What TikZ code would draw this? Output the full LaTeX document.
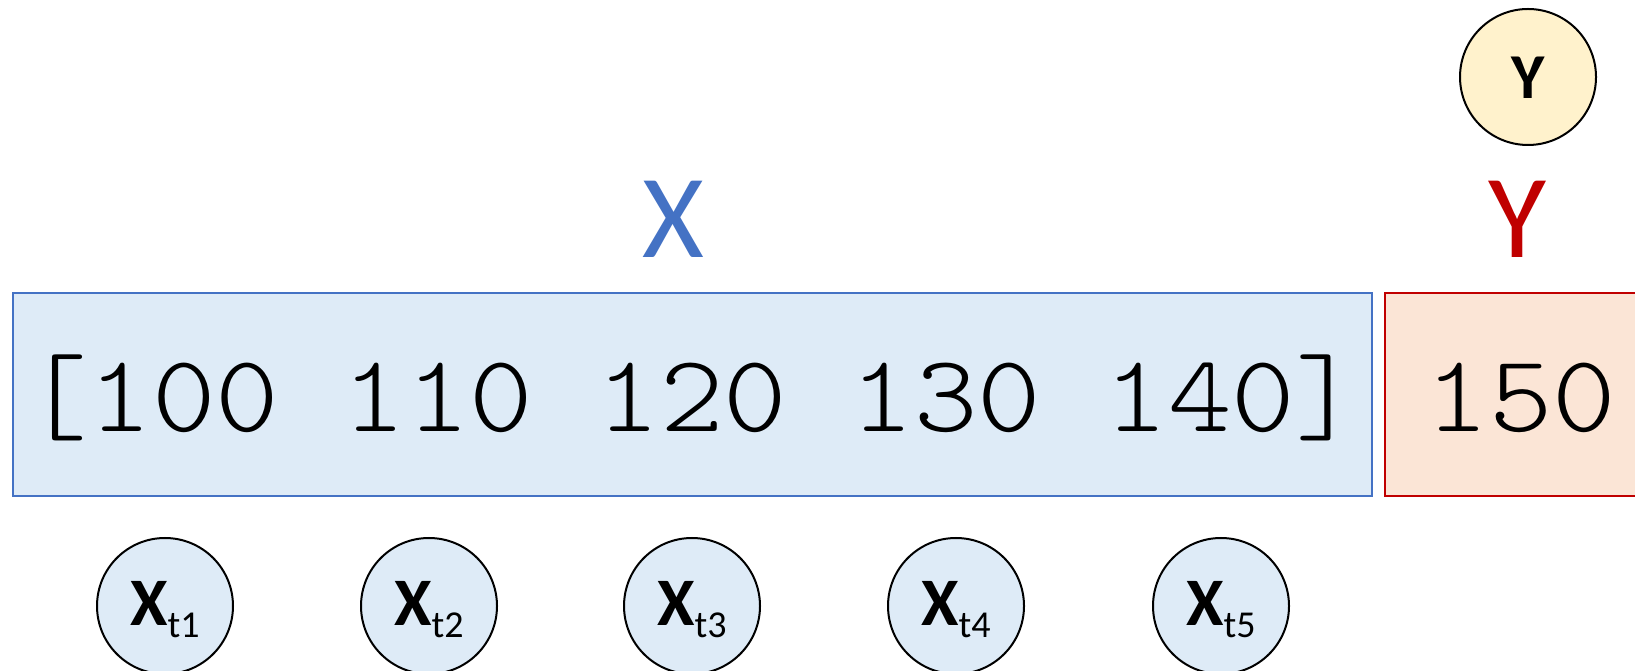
\documentclass[tikz,border=0pt]{standalone}
\usepackage{fontspec}
\setmainfont{Carlito}
\newfontfamily\monof[FakeStretch=1.1]{lmmonolt10-regular.otf}
\definecolor{xblue}{HTML}{4472C4}
\definecolor{yred}{HTML}{C00000}
\definecolor{bluefill}{HTML}{DEEBF7}
\definecolor{redfill}{HTML}{FBE5D6}
\definecolor{yellowfill}{HTML}{FFF2CC}
\begin{document}
\begin{tikzpicture}[x=1pt,y=1pt,
  seqbox/.style={line width=1.4pt},
  varcirc/.style={circle, draw=black, line width=2pt, minimum size=136pt, inner sep=0pt},
  bigmono/.style={font=\monof\fontsize{110}{110}\selectfont, inner sep=0pt, anchor=base},
  biglab/.style={font=\fontsize{119}{119}\selectfont, inner sep=0pt, anchor=base},
  circlab/.style={font=\bfseries\fontsize{64}{64}\selectfont, inner sep=0pt, anchor=base}
]
\useasboundingbox (0,0) rectangle (1635,671);
% boxes
\draw[seqbox, draw=xblue, fill=bluefill] (13,175) rectangle (1372,378);
\draw[seqbox, draw=yred, fill=redfill] (1385,175) rectangle (1665,378);
\node[bigmono] (xseq) at (692,239) {[100 110 120 130 140]};
\node[bigmono] (yval) at (1521,239) {150};
% labels
\node[biglab, text=xblue] (xlab) at (673,413) {X};
\node[biglab, text=yred] (ylab) at (1517,413) {Y};
% Y circle
\node[varcirc, fill=yellowfill] (ycirc) at (1528,594) {};
\node[circlab] (ytext) at (1528,572) {Y};
% X circles
\foreach \i/\x in {1/165,2/429,3/692,4/956,5/1221}{
  \node[varcirc, fill=bluefill] (xc\i) at (\x,65) {};
  \node[inner sep=0pt, anchor=base] (xt\i) at (\x,45) {\fontsize{68}{68}\selectfont\bfseries X\raisebox{-12pt}{\mdseries\fontsize{38}{38}\selectfont t\i}};
}
\end{tikzpicture}
\end{document}
